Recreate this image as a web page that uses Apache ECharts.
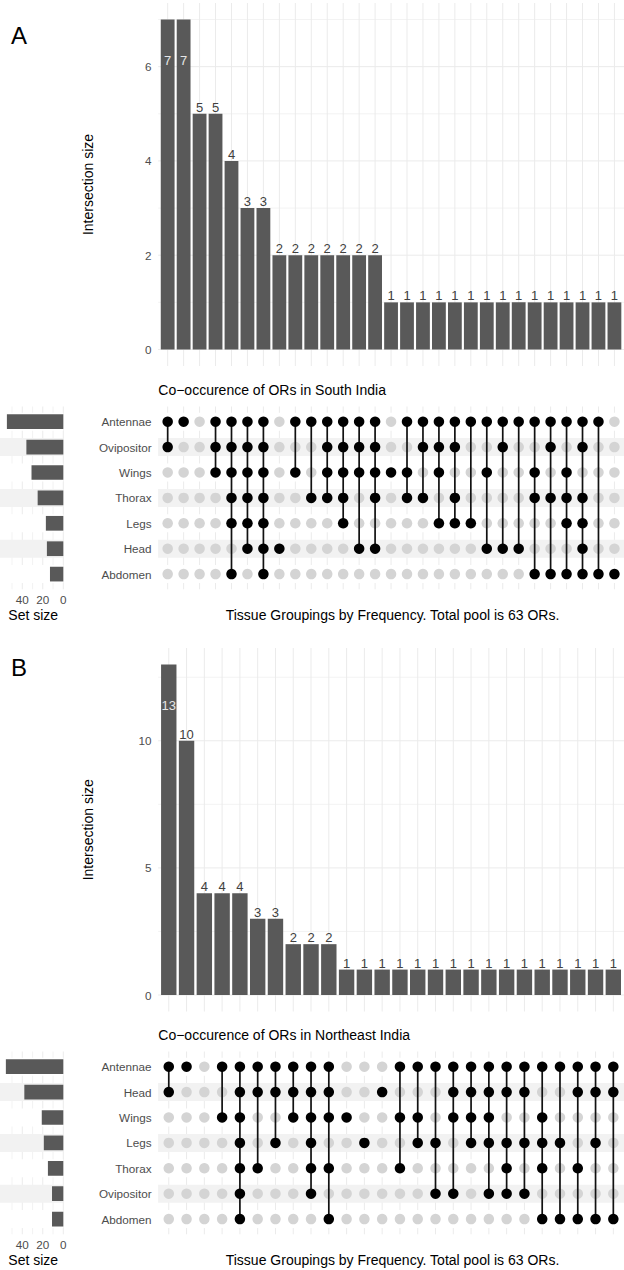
<!DOCTYPE html>
<html><head><meta charset="utf-8">
<script src="https://cdn.jsdelivr.net/npm/echarts@6/dist/echarts.min.js"></script>
<style>html,body{margin:0;padding:0;background:#fff}#c{width:624px;height:1270px}</style>
</head><body><div id="c"></div>
<script>
const FONT = '"Liberation Sans", Arial, Helvetica, sans-serif';

// ---------- Panel A (South India) ----------
const setsA = ['Antennae','Ovipositor','Wings','Thorax','Legs','Head','Abdomen'];
const setSizesA = [55, 36, 31, 25, 17, 16, 13];
const countsA = [7,7,5,5,4,3,3,2,2,2,2,2,2,2,1,1,1,1,1,1,1,1,1,1,1,1,1,1,1];
const membersA = [
  ['Antennae','Ovipositor'],
  ['Antennae'],
  [],
  ['Antennae','Ovipositor','Wings'],
  ['Antennae','Ovipositor','Wings','Thorax','Legs','Abdomen'],
  ['Antennae','Ovipositor','Wings','Thorax','Legs','Head'],
  ['Antennae','Ovipositor','Wings','Thorax','Legs','Head','Abdomen'],
  ['Head'],
  ['Antennae','Wings'],
  ['Antennae','Thorax'],
  ['Antennae','Ovipositor','Wings','Thorax'],
  ['Antennae','Ovipositor','Wings','Thorax','Legs'],
  ['Antennae','Ovipositor','Wings','Head'],
  ['Antennae','Ovipositor','Wings','Thorax','Head'],
  ['Wings'],
  ['Antennae','Wings','Thorax'],
  ['Antennae','Ovipositor','Thorax'],
  ['Antennae','Ovipositor','Wings','Legs'],
  ['Antennae','Ovipositor','Thorax','Legs'],
  ['Antennae','Legs'],
  ['Antennae','Wings','Head'],
  ['Antennae','Ovipositor','Head'],
  ['Antennae','Head'],
  ['Antennae','Wings','Thorax','Abdomen'],
  ['Antennae','Ovipositor','Thorax','Abdomen'],
  ['Antennae','Wings','Thorax','Legs','Abdomen'],
  ['Antennae','Ovipositor','Thorax','Legs','Head','Abdomen'],
  ['Antennae','Abdomen'],
  ['Abdomen']
];
const yTicksA = [0, 2, 4, 6];
const yGridA = [0, 1, 2, 3, 4, 5, 6, 7];

// ---------- Panel B (Northeast India) ----------
const setsB = ['Antennae','Head','Wings','Legs','Thorax','Ovipositor','Abdomen'];
const setSizesB = [56, 38, 21, 19, 15, 11, 11];
const countsB = [13,10,4,4,4,3,3,2,2,2,1,1,1,1,1,1,1,1,1,1,1,1,1,1,1,1];
const membersB = [
  ['Antennae','Head'],
  ['Antennae'],
  [],
  ['Antennae','Wings'],
  ['Antennae','Head','Wings','Legs','Thorax','Ovipositor','Abdomen'],
  ['Antennae','Head','Thorax'],
  ['Antennae','Head','Legs'],
  ['Antennae','Head','Wings'],
  ['Antennae','Head','Wings','Legs','Thorax','Ovipositor'],
  ['Antennae','Head','Wings','Thorax','Abdomen'],
  ['Wings'],
  ['Legs'],
  ['Head'],
  ['Antennae','Wings','Thorax'],
  ['Antennae','Wings','Legs'],
  ['Antennae','Legs','Ovipositor'],
  ['Antennae','Head','Wings','Ovipositor'],
  ['Antennae','Head','Wings','Legs'],
  ['Antennae','Head','Wings','Legs','Ovipositor'],
  ['Antennae','Head','Legs','Thorax','Ovipositor'],
  ['Antennae','Head','Legs','Ovipositor'],
  ['Antennae','Wings','Legs','Thorax','Abdomen'],
  ['Antennae','Legs','Abdomen'],
  ['Antennae','Head','Thorax','Abdomen'],
  ['Antennae','Head','Legs','Abdomen'],
  ['Antennae','Head','Abdomen']
];
const yTicksB = [0, 5, 10];
const yGridB = [0, 2.5, 5, 7.5, 10, 12.5];

const setTicks = [0, 20, 40];
const setGrid = [0, 10, 20, 30, 40, 50];

const BAR = '#595959', GRID = '#ebebeb', TXT = '#4d4d4d';

const option = {animation: false, grid: [], xAxis: [], yAxis: [], series: [], graphic: []};

function addPanel(P) {
  const gi = option.grid.length;
  const n = P.counts.length;
  const L = 158.1, W = 469.2;
  const maxV = Math.max(...P.counts);
  option.grid.push({left: L, top: P.barTop, width: W, height: P.barH});
  option.grid.push({left: L, top: P.matTop, width: W, height: P.matH});
  option.grid.push({left: 0.1, top: P.matTop, width: 63.2, height: P.matH});

  option.xAxis.push({type: 'value', gridIndex: gi, min: -0.6, max: n - 0.4, show: false});
  option.xAxis.push({type: 'value', gridIndex: gi + 1, min: -0.6, max: n - 0.4, show: false});
  option.xAxis.push({type: 'value', gridIndex: gi + 2, min: 0, max: 58.8, inverse: true, interval: 20,
    axisLine: {show: false}, axisTick: {show: false}, splitLine: {show: false},
    axisLabel: {formatter: v => (setTicks.includes(v) ? String(v) : ''), color: TXT, fontSize: 11.7, fontFamily: FONT, margin: 7}});

  option.yAxis.push({type: 'value', gridIndex: gi, min: 0, max: P.yMax, interval: P.yStep,
    axisLine: {show: false}, axisTick: {show: false}, splitLine: {show: false},
    axisLabel: {formatter: v => (P.yTicks.includes(v) ? String(v) : ''), color: TXT, fontSize: 11.7, fontFamily: FONT, margin: 6.5}});
  option.yAxis.push({type: 'category', gridIndex: gi + 1, data: P.sets, inverse: true,
    axisLine: {show: false}, axisTick: {show: false}, splitLine: {show: false},
    axisLabel: {color: TXT, fontSize: 11.7, fontFamily: FONT, margin: 6.5}});
  option.yAxis.push({type: 'category', gridIndex: gi + 2, data: P.sets, inverse: true, show: false});

  // bar panel: vertical grid
  option.series.push({type: 'custom', xAxisIndex: gi, yAxisIndex: gi, z: 0, silent: true, clip: false,
    data: P.counts.map((c, i) => [i, 0]),
    renderItem: (params, api) => {
      const a = api.coord([api.value(0), P.yMax]);
      const b = api.coord([api.value(0), P.yLow]);
      return {type: 'line', shape: {x1: a[0], y1: a[1], x2: b[0], y2: b[1]}, style: {stroke: GRID, lineWidth: 1}};
    }});
  // bar panel: horizontal grid
  option.series.push({type: 'custom', xAxisIndex: gi, yAxisIndex: gi, z: 0, silent: true, clip: false,
    data: P.yGrid.map(v => [0, v]),
    renderItem: (params, api) => {
      const cs = params.coordSys;
      const v = api.value(1);
      const y = api.coord([0, v])[1];
      const major = P.yTicks.includes(v);
      return {type: 'line', shape: {x1: cs.x, y1: y, x2: cs.x + cs.width, y2: y}, style: {stroke: GRID, lineWidth: major ? 1 : 0.6}};
    }});
  // intersection bars
  option.series.push({type: 'bar', xAxisIndex: gi, yAxisIndex: gi, z: 2, barWidth: P.barW,
    itemStyle: {color: BAR},
    label: {show: true, position: 'top', distance: 0, color: '#404040', fontSize: 13, fontFamily: FONT,
      formatter: p => String(p.value[1])},
    data: P.counts.map((v, i) => {
      const it = {value: [i, v]};
      if (v === maxV) it.label = {position: 'insideTop', distance: P.inDist, color: '#e6e6e6'};
      return it;
    })});

  // matrix: vertical grid
  option.series.push({type: 'custom', xAxisIndex: gi + 1, yAxisIndex: gi + 1, z: 0, silent: true, clip: false,
    data: P.counts.map((c, i) => [i, 0]),
    renderItem: (params, api) => {
      const cs = params.coordSys;
      const x = api.coord([api.value(0), 0])[0];
      return {type: 'line', shape: {x1: x, y1: cs.y - 2.5, x2: x, y2: cs.y + cs.height + 2.5}, style: {stroke: GRID, lineWidth: 1}};
    }});
  // matrix stripes
  option.series.push({type: 'custom', xAxisIndex: gi + 1, yAxisIndex: gi + 1, z: 1, silent: true, clip: false,
    data: P.sets.map((s, r) => [0, r]),
    renderItem: (params, api) => {
      const cs = params.coordSys;
      const r = api.value(1);
      const y = api.coord([0, r])[1];
      return {type: 'rect', shape: {x: cs.x, y: y - 9, width: cs.width + 4, height: 18}, style: {fill: r % 2 ? '#f2f2f2' : '#ffffff'}};
    }});
  // matrix connecting lines
  const segs = [];
  P.members.forEach((m, i) => {
    if (m.length > 1) {
      const rows = m.map(s => P.sets.indexOf(s));
      segs.push([i, Math.min(...rows), Math.max(...rows)]);
    }
  });
  option.series.push({type: 'custom', xAxisIndex: gi + 1, yAxisIndex: gi + 1, z: 3, silent: true, clip: false,
    data: segs,
    renderItem: (params, api) => {
      const a = api.coord([api.value(0), api.value(1)]);
      const b = api.coord([api.value(0), api.value(2)]);
      return {type: 'line', shape: {x1: a[0], y1: a[1], x2: b[0], y2: b[1]}, style: {stroke: '#111', lineWidth: 1.7}};
    }});
  const grey = [], black = [];
  P.members.forEach((m, i) => {
    P.sets.forEach((s, r) => { (m.includes(s) ? black : grey).push([i, r]); });
  });
  option.series.push({type: 'scatter', xAxisIndex: gi + 1, yAxisIndex: gi + 1, z: 2, symbol: 'circle', symbolSize: 10.5,
    itemStyle: {color: '#d4d4d4', opacity: 1}, data: grey, silent: true});
  option.series.push({type: 'scatter', xAxisIndex: gi + 1, yAxisIndex: gi + 1, z: 4, symbol: 'circle', symbolSize: 10.5,
    itemStyle: {color: '#000', opacity: 1}, data: black, silent: true});

  // set size: vertical grid
  option.series.push({type: 'custom', xAxisIndex: gi + 2, yAxisIndex: gi + 2, z: 0, silent: true, clip: false,
    data: setGrid.map(v => [v, 0]),
    renderItem: (params, api) => {
      const cs = params.coordSys;
      const v = api.value(0);
      const x = api.coord([v, 0])[0];
      return {type: 'line', shape: {x1: x, y1: cs.y - 2.5, x2: x, y2: cs.y + cs.height + 2.5},
        style: {stroke: GRID, lineWidth: setTicks.includes(v) ? 1 : 0.6}};
    }});
  // set size stripes
  option.series.push({type: 'custom', xAxisIndex: gi + 2, yAxisIndex: gi + 2, z: 1, silent: true, clip: false,
    data: P.sets.map((s, r) => [0, r]),
    renderItem: (params, api) => {
      const cs = params.coordSys;
      const r = api.value(1);
      const y = api.coord([0, r])[1];
      return {type: 'rect', shape: {x: 0, y: y - 9, width: cs.x + cs.width, height: 18}, style: {fill: r % 2 ? '#f2f2f2' : '#ffffff'}};
    }});
  option.series.push({type: 'bar', xAxisIndex: gi + 2, yAxisIndex: gi + 2, z: 2, barWidth: 14.7,
    itemStyle: {color: BAR}, data: P.setSizes, silent: true});

  // texts
  const T = (text, x, y, size, align, extra) => Object.assign({type: 'text', x: x, y: y, silent: true,
    style: {text: text, fill: '#000', fontSize: size, fontFamily: FONT, textAlign: align, textVerticalAlign: 'middle', verticalAlign: 'middle', align: align}}, extra || {});
  option.graphic.push(T(P.letter, 11, P.letterY, 24, 'left'));
  option.graphic.push(T(P.title, 158.3, P.titleY, 14, 'left'));
  option.graphic.push(T('Set size', 8.3, P.axisTitleY, 14, 'left'));
  option.graphic.push(T('Tissue Groupings by Frequency. Total pool is 63 ORs.', 392.5, P.axisTitleY, 14, 'center'));
  option.graphic.push(T('Intersection size', 88, P.barTop + (P.barH + P.barExt) / 2, 14, 'center', {rotation: Math.PI / 2}));
}

addPanel({letter: 'A', title: 'Co\u2212occurence of ORs in South India', sets: setsA, setSizes: setSizesA,
  counts: countsA, members: membersA, yTicks: yTicksA, yGrid: yGridA, yStep: 2, yMax: 7.35, yLow: -0.35,
  barTop: 3, barH: 346.5, barExt: 16.5, barW: 13.8, inDist: 34, matTop: 409.0, matH: 177.8,
  letterY: 35.2, titleY: 390.2, axisTitleY: 614.5});
addPanel({letter: 'B', title: 'Co\u2212occurence of ORs in Northeast India', sets: setsB, setSizes: setSizesB,
  counts: countsB, members: membersB, yTicks: yTicksB, yGrid: yGridB, yStep: 5, yMax: 13.65, yLow: -0.65,
  barTop: 648, barH: 347, barExt: 16.5, barW: 15.4, inDist: 34, matTop: 1054.0, matH: 177.8,
  letterY: 667.2, titleY: 1035.2, axisTitleY: 1260.2});

const chart = echarts.init(document.getElementById('c'), null, {renderer: 'svg'});
chart.setOption(option);
</script>
</body></html>
